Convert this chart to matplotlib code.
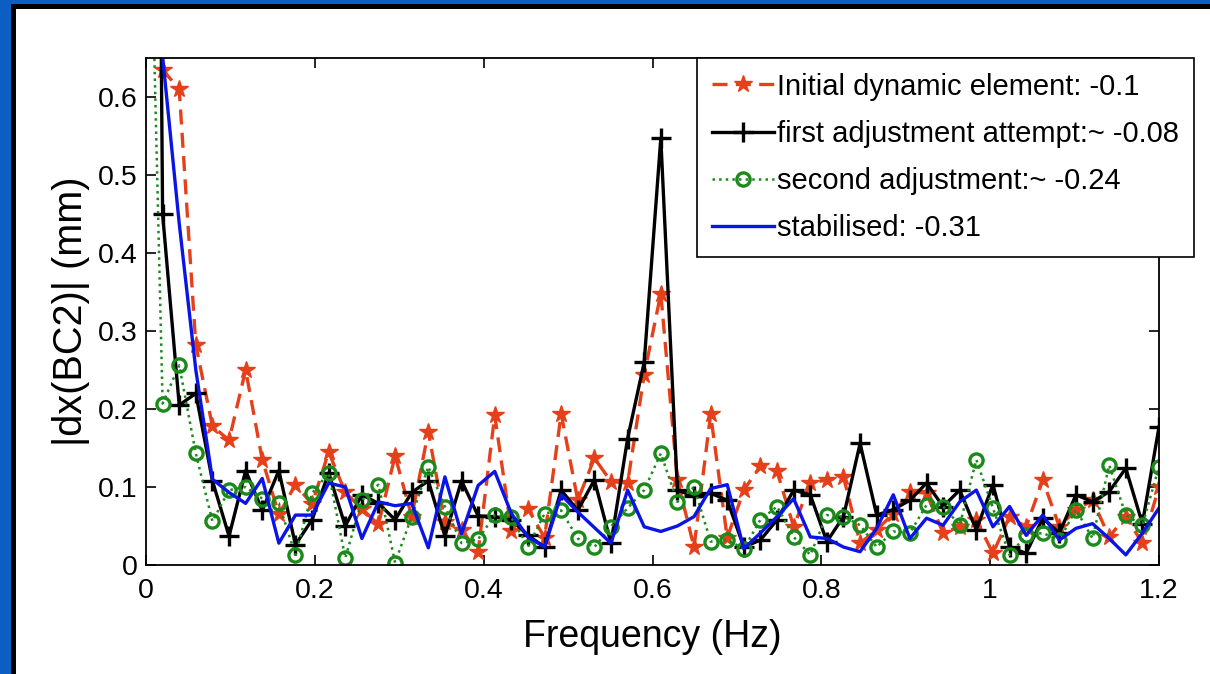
import numpy as np
import matplotlib
matplotlib.use("Agg")
import matplotlib.pyplot as plt
from matplotlib.patches import Rectangle
from matplotlib import font_manager

# spectrum values, first entry is the DC bin (off the chart)
n_bins = 61
freq = np.arange(0, n_bins + 1) * 1.2 / n_bins

initial = [2.0,
           0.635, 0.61, 0.282, 0.178, 0.16, 0.25, 0.135, 0.065, 0.103, 0.078,
           0.145, 0.093, 0.072, 0.052, 0.14, 0.062, 0.171, 0.055, 0.045, 0.017,
           0.192, 0.044, 0.072, 0.035, 0.194, 0.083, 0.137, 0.107, 0.105, 0.244,
           0.348, 0.109, 0.023, 0.193, 0.035, 0.096, 0.127, 0.12, 0.049, 0.105,
           0.109, 0.113, 0.028, 0.045, 0.066, 0.094, 0.092, 0.041, 0.049, 0.058,
           0.015, 0.062, 0.049, 0.109, 0.049, 0.071, 0.083, 0.036, 0.062, 0.028, 0.10]

first_adj = [3.0,
             0.45, 0.205, 0.22, 0.108, 0.037, 0.121, 0.07, 0.121, 0.026, 0.058,
             0.118, 0.05, 0.09, 0.079, 0.058, 0.093, 0.108, 0.037, 0.108, 0.063,
             0.062, 0.058, 0.038, 0.023, 0.096, 0.07, 0.109, 0.028, 0.162, 0.26,
             0.547, 0.096, 0.088, 0.092, 0.083, 0.023, 0.032, 0.058, 0.096, 0.09,
             0.03, 0.062, 0.156, 0.064, 0.071, 0.083, 0.105, 0.075, 0.096, 0.045,
             0.103, 0.023, 0.015, 0.06, 0.041, 0.09, 0.081, 0.094, 0.124, 0.053, 0.177]

second_adj = [1.1,
              0.207, 0.256, 0.143, 0.056, 0.096, 0.10, 0.085, 0.079, 0.013, 0.092,
              0.118, 0.009, 0.083, 0.103, 0.003, 0.062, 0.126, 0.075, 0.028, 0.033,
              0.064, 0.061, 0.023, 0.066, 0.07, 0.034, 0.023, 0.049, 0.073, 0.096,
              0.143, 0.081, 0.10, 0.03, 0.032, 0.021, 0.058, 0.075, 0.036, 0.013,
              0.064, 0.062, 0.051, 0.023, 0.043, 0.041, 0.077, 0.075, 0.051, 0.135,
              0.073, 0.013, 0.038, 0.041, 0.032, 0.071, 0.034, 0.128, 0.064, 0.051, 0.126]

stabilised = [3.0,
              0.652, 0.438, 0.25, 0.11, 0.093, 0.079, 0.111, 0.028, 0.064, 0.064,
              0.105, 0.10, 0.034, 0.081, 0.076, 0.079, 0.022, 0.113, 0.04, 0.102,
              0.12, 0.066, 0.036, 0.023, 0.09, 0.068, 0.048, 0.028, 0.096, 0.049,
              0.043, 0.05, 0.062, 0.098, 0.103, 0.021, 0.041, 0.062, 0.085, 0.036,
              0.034, 0.023, 0.017, 0.047, 0.09, 0.034, 0.06, 0.051, 0.081, 0.096,
              0.049, 0.075, 0.038, 0.064, 0.032, 0.047, 0.053, 0.034, 0.013, 0.041, 0.073]

labels = ["Initial dynamic element: -0.1",
          "first adjustment attempt:~ -0.08",
          "second adjustment:~ -0.24",
          "stabilised: -0.31"]

xticks = [0, 0.2, 0.4, 0.6, 0.8, 1.0, 1.2]
xticklabels = ["0", "0.2", "0.4", "0.6", "0.8", "1", "1.2"]
yticks = [0, 0.1, 0.2, 0.3, 0.4, 0.5, 0.6]
yticklabels = ["0", "0.1", "0.2", "0.3", "0.4", "0.5", "0.6"]

plt.rcParams['font.family'] = ['Liberation Sans', 'DejaVu Sans']
names = {f.name for f in font_manager.fontManager.ttflist}
narrow = 'Liberation Sans Narrow' in names
leg_font = 'Liberation Sans Narrow' if narrow else 'Liberation Sans'
leg_size = 25 if narrow else 21

W, H = 1210, 674
fig = plt.figure(figsize=(W / 100, H / 100), dpi=100)
fig.patch.set_facecolor('#0b5ec4')
panel = Rectangle((12.5 / W, -0.1), 1.2, (H - 6.5) / H + 0.1,
                  transform=fig.transFigure, facecolor='white',
                  edgecolor='black', linewidth=3.6, zorder=-10)
fig.add_artist(panel)

ax = fig.add_axes([146 / W, 1 - 565 / H, (1159 - 146) / W, (565 - 58) / H])
ax.set_zorder(1)

ax.plot(freq, initial, linestyle='--', color='#e5401a', linewidth=2.4, dashes=(4.5, 2.5),
        marker='*', markersize=13, markerfacecolor='#e5401a', markeredgecolor='#e5401a',
        label=labels[0])
ax.plot(freq, first_adj, linestyle='-', color='black', linewidth=2.4,
        marker='+', markersize=15, markeredgewidth=2.4, label=labels[1])
ax.plot(freq, second_adj, linestyle=':', color='#1b8a1b', linewidth=1.8,
        marker='o', markersize=9.5, markerfacecolor='none', markeredgewidth=2.4,
        markeredgecolor='#1b8a1b', label=labels[2])
ax.plot(freq, stabilised, linestyle='-', color='#0a14e6', linewidth=2.4, label=labels[3])

ax.set_xlim(0, 1.2)
ax.set_ylim(0, 0.65)
ax.set_xticks(xticks)
ax.set_xticklabels(xticklabels)
ax.set_yticks(yticks)
ax.set_yticklabels(yticklabels)
ax.tick_params(direction='in', top=True, right=True, length=7, width=1.2,
               labelsize=20.5)
ax.tick_params(axis='x', pad=9)
ax.tick_params(axis='y', pad=6)
for s in ax.spines.values():
    s.set_linewidth(1.3)

ax.set_xlabel("Frequency (Hz)", fontsize=27, labelpad=11)
ax.set_ylabel("|dx(BC2)| (mm)", fontsize=28.5, labelpad=6)

leg = ax.legend(loc='upper left', bbox_to_anchor=(697 / W, 1 - 58 / H),
                bbox_transform=fig.transFigure, borderaxespad=0,
                prop={'family': leg_font, 'size': leg_size}, fancybox=False,
                edgecolor='black', framealpha=1, handlelength=2.15,
                handletextpad=0.1, labelspacing=0.66, borderpad=0.5)
leg.get_frame().set_linewidth(1.2)

fig.savefig("out.png", dpi=100, facecolor=fig.get_facecolor())
